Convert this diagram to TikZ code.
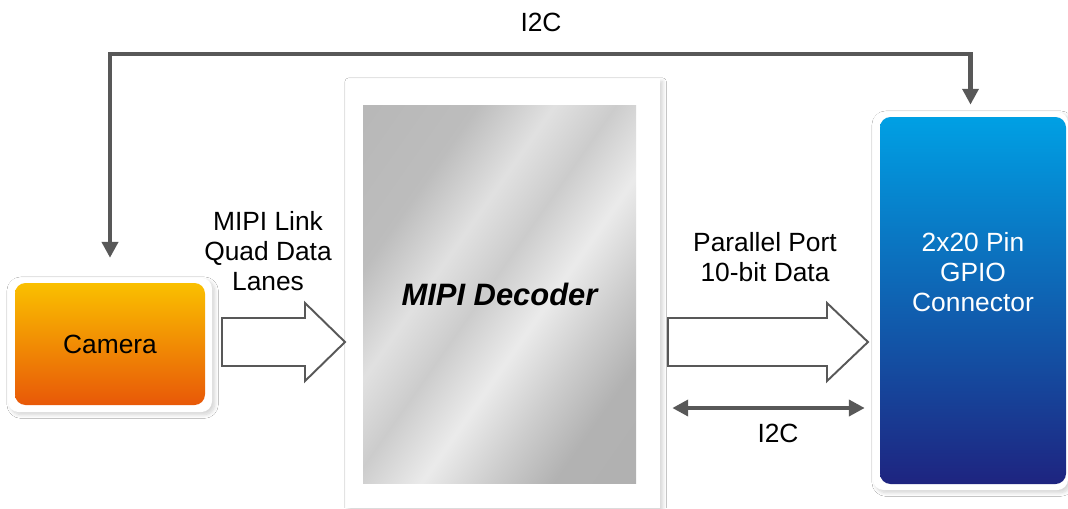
\documentclass[tikz,border=0pt]{standalone}
\usepackage{fontspec}
\setmainfont{Liberation Sans}
\usetikzlibrary{positioning,calc,arrows.meta,shadows.blur}

\definecolor{camtop}{RGB}{250,192,0}
\definecolor{cambot}{RGB}{232,88,8}
\definecolor{gpiotop}{RGB}{0,160,228}
\definecolor{gpiobot}{RGB}{30,36,128}
\definecolor{linegray}{RGB}{88,88,88}
\newcommand\px{0.02cm}

\pgfdeclarehorizontalshading{metal}{100bp}{color(0bp)=(black!30); color(30bp)=(black!26);
  color(40bp)=(black!12); color(48bp)=(black!20); color(57bp)=(black!8); color(66bp)=(black!20);
  color(74bp)=(black!30); color(100bp)=(black!32)}

\tikzset{
  boxframe/.style={fill=white, inner sep=0pt,
    blur shadow={shadow xshift=1.5pt, shadow yshift=-1.5pt, shadow opacity=18, shadow blur steps=10}},
  block/.style={inner sep=0pt, rounded corners=6pt, font=\fontsize{15}{17}\selectfont},
  lbl/.style={align=center, font=\fontsize{15}{17}\selectfont},
  ctrl/.style={draw=linegray, line width=2.3pt, {Triangle[width=9pt,length=9pt]}-{Triangle[width=9pt,length=9pt]}},
  hollow/.style={draw=linegray, fill=white, line width=1.1pt, line join=miter}
}

\begin{document}
\begin{tikzpicture}[x=0.02cm,y=-0.02cm]
\useasboundingbox[fill=white] (0,0) rectangle (1068,508);

% frames
\node[boxframe, rounded corners=6pt, minimum width=204*\px, minimum height=134*\px] (camframe) at (110,345) {};
\node[boxframe, minimum width=314*\px, minimum height=429*\px] (decframe) at (503,293.5) {};
\node[boxframe, rounded corners=6pt, minimum width=195*\px, minimum height=378*\px] (gpioframe) at (970.5,301) {};

% blocks
\node[block, top color=camtop, bottom color=cambot, minimum width=190*\px, minimum height=122*\px] (camera) at (110,344) {Camera};
\node[block, rounded corners=0pt, shading=metal, shading angle=-35, minimum width=273*\px, minimum height=378*\px,
  font=\fontsize{17.6}{20}\selectfont\bfseries\itshape] (decoder) at (499.5,294) {MIPI Decoder};
\node[block, top color=gpiotop, bottom color=gpiobot, minimum width=186*\px, minimum height=367*\px] (gpio) at (973,300.5) {};
\node[lbl, text=white] (gpiolbl) at (973,272) {2x20 Pin\\GPIO\\Connector};

% data links
\draw[hollow] (222,318) -- (305,318) -- (305,303) -- (345,342) -- (305,381) -- (305,366) -- (222,366) -- cycle;
\draw[hollow] (668,318) -- (827,318) -- (827,303) -- (868,342) -- (827,381) -- (827,366) -- (668,366) -- cycle;
\node[lbl] (linklbl) at (268,251) {MIPI Link\\Quad Data\\Lanes};
\node[lbl] (portlbl) at (765,257) {Parallel Port\\10-bit Data};

% i2c
\coordinate (i2ctop) at (541,54);
\coordinate (i2cmid) at (768,408);
\draw[ctrl, shorten <=11.3pt, shorten >=4pt] (camframe.north) -- (camframe.north |- i2ctop)
  -- (gpioframe.north |- i2ctop) -- (gpioframe.north);
\draw[ctrl, shorten <=6.8pt, shorten >=4.5pt] (decframe.east |- i2cmid) -- (gpioframe.west |- i2cmid);
\node[lbl] (i2clbl) at (541,22) {I2C};
\node[lbl] (i2cbus) at (778,433) {I2C};
\end{tikzpicture}
\end{document}
